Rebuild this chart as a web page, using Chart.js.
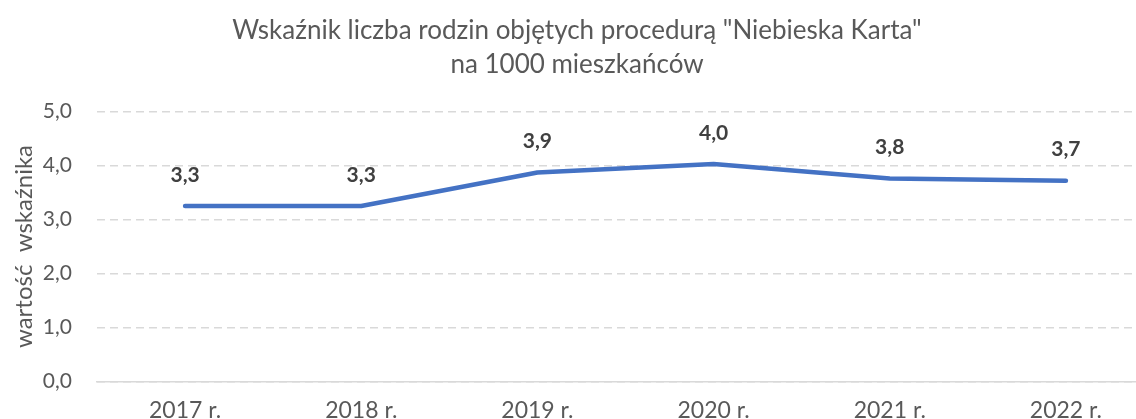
<!DOCTYPE html>
<html lang="pl">
<head>
<meta charset="utf-8">
<script src="https://cdn.jsdelivr.net/npm/chart.js@4.4.0/dist/chart.umd.min.js"></script>
<style>
  html, body { margin: 0; padding: 0; background: #fff; overflow: hidden; }
  #wrap { width: 1136px; height: 419px; overflow: hidden; position: relative; }
  #box { width: 1154px; height: 431px; position: absolute; left: 0; top: 0; }
</style>
</head>
<body>
<div id="wrap"><div id="box"><canvas id="chart"></canvas></div></div>
<script>
const years = ["2017 r.", "2018 r.", "2019 r.", "2020 r.", "2021 r.", "2022 r."];
const values = [3.25, 3.25, 3.87, 4.03, 3.76, 3.72];
const titleLines = ["Wskaźnik liczba rodzin objętych procedurą \"Niebieska Karta\"", "na 1000 mieszkańców"];
const yTitle = "wartość  wskaźnika";

const fmt = v => v.toFixed(1).replace(".", ",");

// etykiety nad punktami
const pointLabels = {
  id: "pointLabels",
  afterDatasetsDraw(chart) {
    const ctx = chart.ctx;
    const meta = chart.getDatasetMeta(0);
    ctx.save();
    ctx.font = "bold 21px Lato";
    ctx.fillStyle = "#404040";
    ctx.textAlign = "center";
    ctx.textBaseline = "middle";
    meta.data.forEach((pt, i) => {
      ctx.fillText(fmt(values[i]), pt.x, pt.y - 31);
    });
    ctx.restore();
  }
};

new Chart(document.getElementById("chart"), {
  type: "line",
  data: {
    labels: years,
    datasets: [{
      data: values,
      borderColor: "#4472C4",
      borderWidth: 4.5,
      pointRadius: 0,
      tension: 0,
      borderCapStyle: "round",
      borderJoinStyle: "round"
    }]
  },
  options: {
    responsive: true,
    maintainAspectRatio: false,
    animation: false,
    layout: { padding: { top: 14, left: 0, right: 0, bottom: 0 } },
    plugins: {
      legend: { display: false },
      tooltip: { enabled: false },
      title: {
        display: true,
        text: titleLines,
        color: "#595959",
        font: { family: "Lato", size: 26, weight: "normal", lineHeight: 1.3 },
        padding: { top: 0, bottom: 30 }
      }
    },
    scales: {
      x: {
        offset: true,
        grid: { display: false },
        border: { display: true, color: "#d9d9d9", width: 1.5 },
        ticks: { color: "#595959", font: { family: "Lato", size: 23 }, padding: 7, maxRotation: 0 }
      },
      y: {
        min: 0,
        max: 5,
        afterFit: scale => { scale.width = 97; },
        ticks: { stepSize: 1, color: "#595959", font: { family: "Lato", size: 21 }, padding: 25, callback: v => fmt(v) },
        grid: { color: "#d9d9d9", lineWidth: 1.5, drawTicks: false },
        border: { display: false, dash: [8, 5] },
        title: { display: true, text: yTitle, color: "#595959", font: { family: "Lato", size: 24 }, padding: { top: 10, bottom: 0 } }
      }
    }
  },
  plugins: [pointLabels]
});
</script>
</body>
</html>
